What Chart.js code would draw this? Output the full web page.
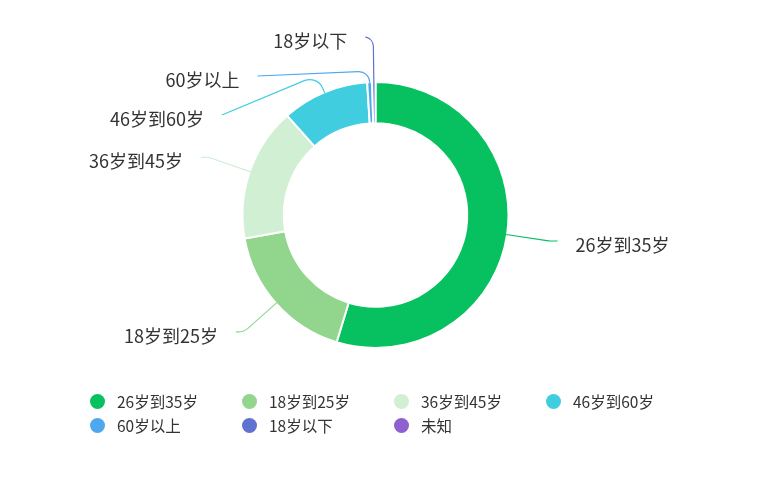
<!DOCTYPE html>
<html><head><meta charset="utf-8">
<script src="https://cdn.jsdelivr.net/npm/chart.js@4"></script>
<style>
html,body{margin:0;padding:0;background:#fff;}
#wrap{position:relative;width:777px;height:492px;overflow:hidden;}
#c{display:block;}
#legend{position:absolute;left:90px;top:389px;display:grid;grid-template-columns:repeat(4,152px);grid-auto-rows:24px;font-family:"Noto Sans CJK SC",sans-serif;font-size:15.5px;color:#333;}
.item{display:flex;align-items:center;white-space:nowrap;}
.dot{width:15px;height:15px;border-radius:50%;margin-right:12px;flex:none;}
</style></head><body>
<div id="wrap"><canvas id="c" width="777" height="492"></canvas><div id="legend"></div></div>
<script>
const categories = ['26岁到35岁','18岁到25岁','36岁到45岁','46岁到60岁','60岁以上','18岁以下','未知'];
const values = [5472,1744,1628,1056,60,40,0];
const colors = ['#07c160','#91d68c','#d1efd3','#40cde0','#4fa8ee','#5f72d0','#8f60cf'];

const labelPlugin = {
  id:'outerLabels',
  afterDatasetsDraw(chart){
    const meta = chart.getDatasetMeta(0);
    const ctx = chart.ctx;
    const L1=44, L2=8, GAP=39, MIN_Y=37, TEXT_GAP=18, CORNER=14;
    const items=[];
    meta.data.forEach((arc,i)=>{
      if(!values[i]) return;
      const p = arc.getProps(['x','y','startAngle','endAngle','outerRadius'], true);
      const mid=(p.startAngle+p.endAngle)/2;
      const dx=Math.cos(mid), dy=Math.sin(mid);
      const side = dx<0?-1:1;
      const r=p.outerRadius-1;
      items.push({i, cx:p.x, cy:p.y, r, dx, dy, side,
        x0:p.x+r*dx, y0:p.y+r*dy,
        x:p.x+(r+L1)*dx+side*L2, y:p.y+(r+L1)*dy, ny:p.y+(r+L1)*dy});
    });
    const top = cl => cl.reduce((s,e,k)=>s+e.ny-k*GAP,0)/cl.length;
    [-1,1].forEach(side=>{
      const list = items.filter(it=>it.side===side).sort((a,b)=>a.ny-b.ny);
      if(list.length<2) return;
      const clusters=[];
      list.forEach(it=>{
        clusters.push([it]);
        while(clusters.length>1){
          const c=clusters[clusters.length-1], pc=clusters[clusters.length-2];
          if(top(pc)+pc.length*GAP>top(c)){ clusters.pop(); clusters[clusters.length-1]=pc.concat(c);} else break;
        }
      });
      let prev=-Infinity, moved=false;
      clusters.forEach(cl=>{
        const t=top(cl);
        cl.forEach((it,k)=>{
          const y=Math.max(t+k*GAP, prev+GAP, MIN_Y);
          if(Math.abs(y-it.ny)>0.5) moved=true;
          it.y=y; prev=y;
        });
      });
      if(!moved) return;
      const cx=list[0].cx, cy=list[0].cy, rA=list[0].r+L1;
      [list.filter(it=>it.y<cy), list.filter(it=>it.y>=cy)].forEach(semi=>{
        if(!semi.length) return;
        let maxDy=-1, rB=rA;
        semi.forEach(it=>{
          const d=Math.abs(it.y-cy);
          if(d>=maxDy){
            const ddx=it.x-cx-L2*side;
            rB = Math.abs(ddx)<rA ? Math.sqrt(d*d/(1-ddx*ddx/rA/rA)) : rA;
            maxDy=d;
          }
        });
        semi.forEach(it=>{
          const d=Math.abs(it.y-cy);
          const f=Math.sqrt(Math.max(0,1-d*d/(rB*rB)));
          it.x=cx+side*(f*rA+L2);
        });
      });
    });
    ctx.save();
    items.forEach(it=>{
      let k=L1;
      const proj=(it.x-it.x0)*it.dx+(it.y-it.y0)*it.dy;
      if(proj<k) k=Math.max(proj,6);
      const x1=it.x0+it.dx*k, y1=it.y0+it.dy*k;
      // rounded corner, radius limited by the segment lengths
      const ax=it.x0-x1, ay=it.y0-y1, bx=it.x-x1, by=it.y-y1;
      const la=Math.hypot(ax,ay), lb=Math.hypot(bx,by);
      let rad=0;
      if(la>0.5 && lb>0.5){
        const cos=Math.max(-1,Math.min(1,(ax*bx+ay*by)/(la*lb)));
        const half=Math.acos(cos)/2; // half of interior angle
        const t=Math.tan(Math.PI/2-half); // tangent length per unit radius
        rad = t>1e-3 ? Math.min(CORNER, 0.9*Math.min(la,lb)/t) : 0;
      }
      ctx.strokeStyle=colors[it.i]; ctx.lineWidth=1.2;
      ctx.beginPath(); ctx.moveTo(it.x0,it.y0);
      if(rad>0.5) ctx.arcTo(x1,y1,it.x,it.y,rad); else ctx.lineTo(x1,y1);
      ctx.lineTo(it.x,it.y); ctx.stroke();
      ctx.fillStyle='#333'; ctx.font='18px "Noto Sans CJK SC"'; ctx.textBaseline='middle';
      ctx.textAlign = it.side<0?'right':'left';
      ctx.fillText(categories[it.i], it.x+it.side*TEXT_GAP, it.y+4);
    });
    ctx.restore();
  }
};

new Chart(document.getElementById('c'), {
  type:'doughnut',
  data:{labels:categories, datasets:[{data:values, backgroundColor:colors, borderColor:'#fff', borderWidth:2, hoverOffset:0}]},
  options:{
    responsive:false, animation:false, cutout:'69%',
    layout:{padding:{top:81,bottom:143,left:241,right:267}},
    plugins:{legend:{display:false}, tooltip:{enabled:false}}
  },
  plugins:[labelPlugin]
});

const lg=document.getElementById('legend');
categories.forEach((c,i)=>{
  const d=document.createElement('div'); d.className='item';
  const s=document.createElement('span'); s.className='dot'; s.style.background=colors[i];
  const t=document.createElement('span'); t.textContent=c;
  d.appendChild(s); d.appendChild(t); lg.appendChild(d);
});
</script>
</body></html>
